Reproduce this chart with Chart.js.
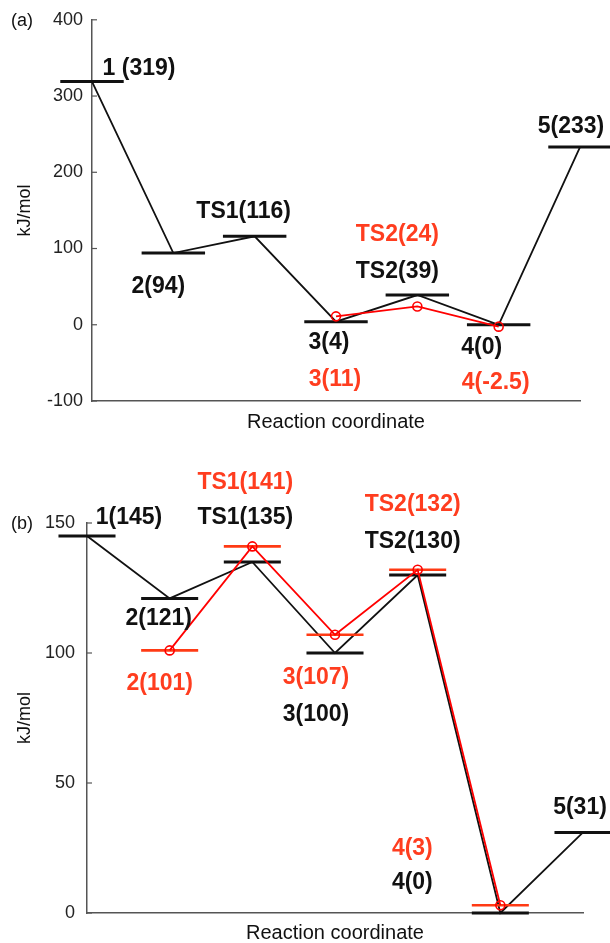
<!DOCTYPE html>
<html>
<head>
<meta charset="utf-8">
<title>Reaction energy profiles</title>
<script src="https://cdn.jsdelivr.net/npm/chart.js@4.4.1/dist/chart.umd.min.js"></script>
<style>
  html, body { margin: 0; padding: 0; background: #fff; }
  canvas { display: block; }
</style>
</head>
<body>
<canvas id="chartA" width="610" height="440"></canvas>
<canvas id="chartB" width="610" height="503"></canvas>
<script>
// panel (a)
const statesA = ['1', '2', 'TS1', '3', 'TS2', '4', '5'];
const energyA = [319, 94, 116, 4, 39, 0, 233];
const energyRedA = [null, null, null, 11, 24, -2.5, null];
const labelsA = ['1 (319)', '2(94)', 'TS1(116)', '3(4)', 'TS2(39)', '4(0)', '5(233)'];
const labelsRedA = [null, null, null, '3(11)', 'TS2(24)', '4(-2.5)', null];
const ticksA = [-100, 0, 100, 200, 300, 400];

// panel (b)
const statesB = ['1', '2', 'TS1', '3', 'TS2', '4', '5'];
const energyB = [145, 121, 135, 100, 130, 0, 31];
const energyRedB = [null, 101, 141, 107, 132, 3, null];
const labelsB = ['1(145)', '2(121)', 'TS1(135)', '3(100)', 'TS2(130)', '4(0)', '5(31)'];
const labelsRedB = [null, '2(101)', 'TS1(141)', '3(107)', 'TS2(132)', '4(3)', null];
const ticksB = [0, 50, 100, 150];

const BLACK = '#111';
const RED = '#ff0000';
const RED_BAR = '#ff3a14';
const RED_TEXT = '#ff3d1f';
const AXIS = '#555';
const FONT = '"Liberation Sans", Arial, Helvetica, sans-serif';

// text labels, tick marks pointing inward and the panel letter
const annotate = {
    id: 'annotate',
    afterDatasetsDraw(chart, args, opts) {
        const { ctx, chartArea } = chart;
        const { x, y } = chart.scales;
        ctx.save();

        ctx.strokeStyle = AXIS;
        ctx.lineWidth = 1.2;
        y.ticks.forEach(t => {
            const py = y.getPixelForValue(t.value);
            ctx.beginPath();
            ctx.moveTo(chartArea.left, py);
            ctx.lineTo(chartArea.left + 5, py);
            ctx.stroke();
        });

        ctx.font = '18px ' + FONT;
        ctx.fillStyle = BLACK;
        ctx.textAlign = 'left';
        ctx.textBaseline = 'middle';
        ctx.fillText(opts.panel, 11, chartArea.top + 1);

        ctx.font = 'bold 23px ' + FONT;
        ctx.textAlign = 'center';
        const put = (texts, values, offsets, color) => {
            ctx.fillStyle = color;
            texts.forEach((txt, i) => {
                if (txt === null) return;
                const px = x.getPixelForValue(i + 1) + offsets[i][0];
                const py = y.getPixelForValue(values[i]) + offsets[i][1];
                ctx.fillText(txt, px, py);
            });
        };
        put(opts.labels, opts.values, opts.offsets, BLACK);
        put(opts.redLabels, opts.redValues, opts.redOffsets, RED_TEXT);
        ctx.restore();
    }
};

function levelSets(values, color, width, half) {
    return values.map((v, i) => v === null ? null : {
        data: [{ x: i + 1 - half, y: v }, { x: i + 1 + half, y: v }],
        borderColor: color,
        borderWidth: width,
        pointRadius: 0,
        showLine: true,
        clip: false,
    }).filter(Boolean);
}

function pathSet(values, color, width, marker) {
    return {
        data: values.map((v, i) => ({ x: i + 1, y: v })).filter(p => p.y !== null),
        borderColor: color,
        borderWidth: width,
        showLine: true,
        clip: false,
        pointRadius: marker ? 4.5 : 0,
        pointBorderWidth: 1.6,
        pointBorderColor: color,
        pointBackgroundColor: 'rgba(0,0,0,0)',
    };
}

function makePanel(id, p) {
    const ctx = document.getElementById(id).getContext('2d');
    const datasets = [
        pathSet(p.redValues, RED, 1.8, true),
        ...levelSets(p.redValues.map(v => p.redBars ? v : null), RED_BAR, 2.6, p.half),
        ...levelSets(p.values, BLACK, 3, p.half),
        pathSet(p.values, BLACK, 1.8, false),
    ];
    return new Chart(ctx, {
        type: 'scatter',
        data: { datasets },
        options: {
            responsive: false,
            animation: false,
            layout: { padding: { top: p.top, right: p.right, left: 0, bottom: 0 } },
            plugins: {
                legend: { display: false },
                tooltip: { enabled: false },
                annotate: p.annotate,
            },
            scales: {
                x: {
                    type: 'linear',
                    min: 1,
                    max: p.values.length,
                    ticks: { display: false },
                    grid: { display: false, drawTicks: false },
                    border: { display: true, color: AXIS, width: 1.5 },
                    title: {
                        display: true,
                        text: 'Reaction coordinate',
                        color: BLACK,
                        font: { family: FONT, size: 20, lineHeight: 1.2 },
                        padding: { top: 0, bottom: p.titlePad },
                    },
                    afterFit: s => { s.height = p.xHeight; },
                },
                y: {
                    min: p.ticks[0],
                    max: p.ticks[p.ticks.length - 1],
                    ticks: {
                        stepSize: p.ticks[1] - p.ticks[0],
                        padding: p.tickPad,
                        color: '#222',
                        font: { family: FONT, size: 18 },
                    },
                    grid: { display: false, drawTicks: false },
                    border: { display: true, color: AXIS, width: 1.5 },
                    title: {
                        display: true,
                        text: 'kJ/mol',
                        color: BLACK,
                        font: { family: FONT, size: 18, lineHeight: 1.2 },
                        padding: { top: 14, bottom: 0 },
                    },
                    afterFit: s => { s.width = p.yWidth; },
                },
            },
        },
        plugins: [annotate],
    });
}

makePanel('chartA', {
    values: energyA,
    redValues: energyRedA,
    redBars: false,
    ticks: ticksA,
    half: 0.39,
    top: 19, right: 30, xHeight: 39, yWidth: 92, tickPad: 9, titlePad: 6,
    annotate: {
        panel: '(a)',
        labels: labelsA,
        values: energyA,
        offsets: [[47, -13], [-15, 34], [-11, -25], [-7, 21], [-20, -23], [-17, 23], [-9, -20]],
        redLabels: labelsRedA,
        redValues: energyRedA,
        redOffsets: [null, null, null, [-1, 63], [-20, -72], [-3, 56], null],
    },
});

makePanel('chartB', {
    values: energyB,
    redValues: energyRedB,
    redBars: true,
    ticks: ticksB,
    half: 0.345,
    top: 83, right: 27, xHeight: 30, yWidth: 87, tickPad: 12, titlePad: -2,
    annotate: {
        panel: '(b)',
        labels: labelsB,
        values: energyB,
        offsets: [[42, -18], [-11, 20], [-7, -44], [-19, 62], [-5, -33], [-88, -30], [-3, -25]],
        redLabels: labelsRedB,
        redValues: energyRedB,
        redOffsets: [null, [-10, 33], [-7, -64], [-19, 43], [-5, -65], [-88, -57], null],
    },
});
</script>
</body>
</html>
